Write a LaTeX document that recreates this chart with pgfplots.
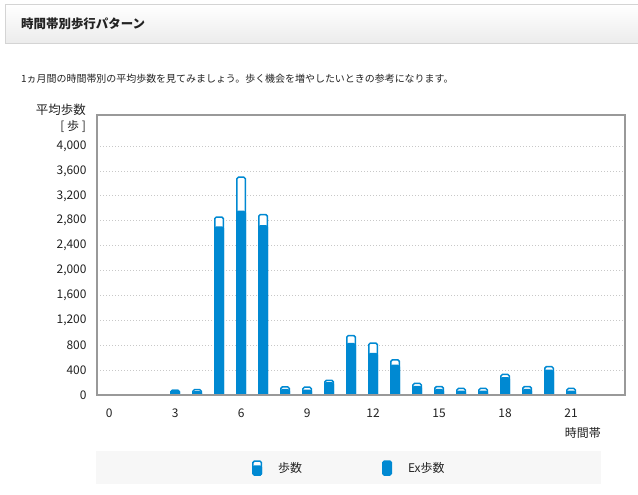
\documentclass[border=0pt]{standalone}
\usepackage{fontspec}
\setmainfont{Noto Sans CJK JP}
\usepackage{pgfplots}
\pgfplotsset{compat=1.18}

\definecolor{barblue}{RGB}{0,137,210}
\definecolor{framegray}{RGB}{153,153,153}
\definecolor{gridgray}{RGB}{200,200,200}
\definecolor{textdark}{RGB}{34,34,34}
\definecolor{legendbg}{RGB}{247,247,247}
\definecolor{headbot}{RGB}{236,236,236}
\definecolor{headline}{RGB}{212,212,212}

\begin{document}
\begin{tikzpicture}
\path[use as bounding box] (0,0) rectangle (638bp,-495bp);
\fill[white] (0,0) rectangle (638bp,-495bp);

% header box
\draw[headline, line width=1bp, top color=white, bottom color=headbot]
  (5bp,-4bp) rectangle (660bp,-43bp);
\node[anchor=west, inner sep=0, text=textdark, font=\fontsize{12.5}{14}\selectfont\bfseries]
  at (21bp,-24bp) {時間帯別歩行パターン};
\node[anchor=west, inner sep=0, text=textdark, font=\fontsize{10}{12}\selectfont]
  at (21bp,-79bp) {1ヵ月間の時間帯別の平均歩数を見てみましょう。歩く機会を増やしたいときの参考になります。};

% y label
\node[anchor=east, inner sep=0, text=textdark, font=\fontsize{12.5}{14}\selectfont]
  at (86bp,-110bp) {平均歩数};
\node[anchor=east, inner sep=0, text=textdark, font=\fontsize{12}{14}\selectfont]
  at (86bp,-126bp) {[ 歩 ]};
% x label
\node[anchor=east, inner sep=0, text=textdark, font=\fontsize{12}{14}\selectfont]
  at (601bp,-433bp) {時間帯};

% legend background
\fill[legendbg] (96bp,-451bp) rectangle (601bp,-484bp);

\begin{axis}[
    at={(97bp,-395bp)}, anchor=south west,
    scale only axis, width=528bp, height=280bp,
    xmin=-0.55, xmax=23.45,
    ymin=0, ymax=4500,
    xtick={0,3,...,21},
    ytick={0,400,...,4000},
    major tick length=0pt,
    ymajorgrids,
    grid style={gridgray, line width=1bp, dash pattern=on 1bp off 2bp},
    axis line style={framegray, line width=2bp},
    tick label style={font=\fontsize{12}{12}\selectfont, text=textdark},
    yticklabel style={xshift=-7bp},
    xticklabel style={yshift=-10bp},
    /pgf/number format/assume math mode=true,
    /pgf/number format/1000 sep={,},
    ybar, bar width=8.5bp, bar shift=0pt,
    legend columns=2,
    legend style={at={(0.478,-0.261)}, anchor=center, draw=none, fill=none,
        font=\fontsize{12}{12}\selectfont, text=textdark,
        /tikz/every odd column/.append style={column sep=14bp},
        /tikz/every even column/.append style={column sep=78bp}},
    ]
    \addplot[bar shift=0pt, draw=barblue, fill=white, line width=1.5bp, rounded corners=1.5bp,
        legend image code/.code={
            \draw[barblue, line width=1.5bp, fill=white, rounded corners=1.5bp] (0bp,-7bp) rectangle (8.5bp,7bp);
            \fill[barblue] (0bp,-7bp) rectangle (8.5bp,2bp);}]
    coordinates {
        (3,75) (4,85) (5,2860) (6,3500) (7,2900) (8,130) (9,125) (10,235)
        (11,955) (12,835) (13,565) (14,185) (15,135) (16,105) (17,105)
        (18,330) (19,135) (20,455) (21,105)
    };
    \addlegendentry{歩数}
    \addplot[bar shift=0pt, draw=barblue, fill=barblue, line width=1.5bp, rounded corners=1.5bp,
        legend image code/.code={
            \draw[barblue, line width=1.5bp, fill=barblue, rounded corners=1.5bp] (0bp,-7bp) rectangle (8.5bp,7bp);}]
    coordinates {
        (3,75) (4,50) (5,2700) (6,2950) (7,2720) (8,85) (9,75) (10,195)
        (11,825) (12,665) (13,475) (14,135) (15,85) (16,60) (17,60)
        (18,275) (19,85) (20,395) (21,60)
    };
    \addlegendentry{Ex歩数}
    \draw[framegray, line width=2bp] (rel axis cs:0,0) -- (rel axis cs:1,0);
\end{axis}
\end{tikzpicture}
\end{document}
